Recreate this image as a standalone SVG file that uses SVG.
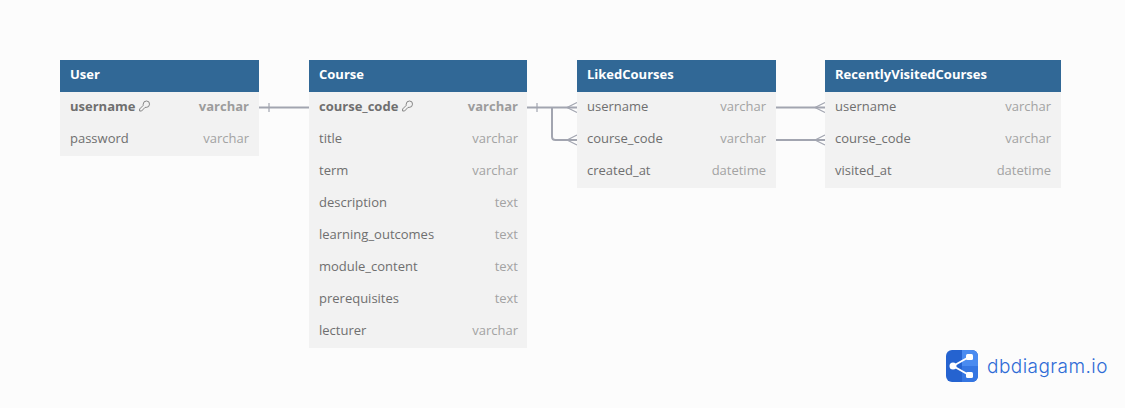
<svg xmlns="http://www.w3.org/2000/svg" width="1125" height="408" viewBox="0 0 1125 408">
<style>
text{font-family:"Open Sans","Noto Sans",sans-serif;font-size:13px;fill:#6f6f6f}
.h{fill:#316896}.b{fill:#f2f2f2}
text.t{fill:#fff;font-weight:700}
text.y{fill:#a3a3a3;text-anchor:end}
text.k{font-weight:700}
text.ky{font-weight:700;fill:#9c9c9c;text-anchor:end}
.c{fill:none;stroke:#a2a5b0;stroke-width:2}
.c1{fill:none;stroke:#a2a5b0;stroke-width:1.2}
.key{fill:none;stroke:#7a7a7a;stroke-width:.9}
</style>
<defs>
<g id="key"><path d="M4.200 3.200a3.300 3.300 0 0 1 3.300-3.200a3 3 0 0 1 3 3.200a3.300 3.300 0 0 1-3.300 3.200l-1.200 0l-3.400 3.600h-2v-2l3.500-3.500z" class="key"/></g>
<g id="many"><path d="M0 0H13" class="c"/><path d="M3 0L13-5M3 0L13 5" class="c1"/></g>
</defs>
<rect width="1125" height="408" fill="#fcfcfc"/>
<g id="connectors">
<path d="M259 107.500H309" class="c"/><path d="M269 103V112" class="c1"/>
<path d="M527 107.500H564" class="c"/><path d="M537 103V112" class="c1"/>
<path d="M552 107.500V136.500Q552 140 555.500 140H564" class="c"/>
<use href="#many" x="564" y="107.500"/><use href="#many" x="564" y="140"/>
<path d="M776 107.500H812" class="c"/><use href="#many" x="812" y="107.500"/>
<path d="M776 140H812" class="c"/><use href="#many" x="812" y="140"/>
</g>
<g id="User">
<rect x="60" y="92" width="199" height="64" class="b"/><rect x="60" y="60" width="199" height="32" class="h"/>
<text x="70" y="79" class="t">User</text>
<text x="70" y="111" class="k">username</text><use href="#key" x="139" y="101"/><text x="249" y="111" class="ky">varchar</text>
<text x="70" y="143">password</text><text x="249" y="143" class="y">varchar</text>
</g>
<g id="Course">
<rect x="309" y="92" width="218" height="256" class="b"/><rect x="309" y="60" width="218" height="32" class="h"/>
<text x="319" y="79" class="t">Course</text>
<text x="319" y="111" class="k">course_code</text><use href="#key" x="402" y="101"/><text x="518" y="111" class="ky">varchar</text>
<text x="319" y="143">title</text><text x="518" y="143" class="y">varchar</text>
<text x="319" y="175">term</text><text x="518" y="175" class="y">varchar</text>
<text x="319" y="207">description</text><text x="518" y="207" class="y">text</text>
<text x="319" y="239">learning_outcomes</text><text x="518" y="239" class="y">text</text>
<text x="319" y="271">module_content</text><text x="518" y="271" class="y">text</text>
<text x="319" y="303">prerequisites</text><text x="518" y="303" class="y">text</text>
<text x="319" y="335">lecturer</text><text x="518" y="335" class="y">varchar</text>
</g>
<g id="LikedCourses">
<rect x="577" y="92" width="199" height="96" class="b"/><rect x="577" y="60" width="199" height="32" class="h"/>
<text x="587" y="79" class="t">LikedCourses</text>
<text x="587" y="111">username</text><text x="766" y="111" class="y">varchar</text>
<text x="587" y="143">course_code</text><text x="766" y="143" class="y">varchar</text>
<text x="587" y="175">created_at</text><text x="766" y="175" class="y">datetime</text>
</g>
<g id="RecentlyVisitedCourses">
<rect x="825" y="92" width="236" height="96" class="b"/><rect x="825" y="60" width="236" height="32" class="h"/>
<text x="835" y="79" class="t">RecentlyVisitedCourses</text>
<text x="835" y="111">username</text><text x="1051" y="111" class="y">varchar</text>
<text x="835" y="143">course_code</text><text x="1051" y="143" class="y">varchar</text>
<text x="835" y="175">visited_at</text><text x="1051" y="175" class="y">datetime</text>
</g>
<g id="logo">
<rect x="946" y="350" width="32" height="32" rx="6" fill="#2563d0"/>
<path d="M962 350h10a6 6 0 0 1 6 6v10h-16z" fill="#4a8bf0"/>
<path d="M962 366h16v10a6 6 0 0 1-6 6h-10z" fill="#3576e2"/>
<path d="M953 366L969 357M953 366L969 375" stroke="#fff" stroke-width="2" fill="none"/>
<circle cx="953" cy="366" r="3.500" fill="#fff"/><rect x="966" y="354" width="7" height="6" rx="1.500" fill="#fff"/><rect x="966" y="372" width="7" height="6" rx="1.500" fill="#fff"/>
<text x="987" y="373" style="font-family:Inter,'Noto Sans',sans-serif;font-size:19px;font-weight:300;fill:#2e6bd6;letter-spacing:.45px">dbdiagram.io</text>
</g>
</svg>
